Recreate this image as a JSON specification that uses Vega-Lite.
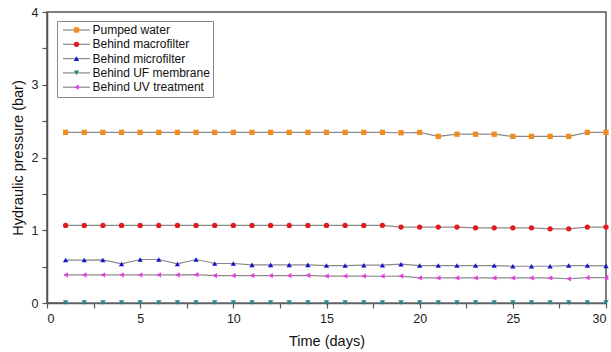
{
  "$schema": "https://vega.github.io/schema/vega-lite/v6.json",
  "autosize": "none",
  "width": 559,
  "height": 291,
  "padding": {"left": 47, "top": 12, "right": 5, "bottom": 49},
  "background": "white",
  "config": {
    "view": {"stroke": "#555", "strokeWidth": 1.5},
    "font": "Liberation Sans",
    "axis": {
      "grid": false,
      "domainColor": "#555",
      "domainWidth": 1.5,
      "tickColor": "#555",
      "tickWidth": 1.2,
      "tickSize": 5,
      "labelFont": "Liberation Sans",
      "labelFontSize": 12.5,
      "labelColor": "#222",
      "labelPadding": 4,
      "titleFont": "Liberation Sans",
      "titleFontSize": 14.5,
      "titleFontWeight": "normal",
      "titleColor": "#111"
    }
  },
  "data": {
    "values": [
      {"day": 1, "series": "Pumped water", "value": 2.345},
      {"day": 2, "series": "Pumped water", "value": 2.345},
      {"day": 3, "series": "Pumped water", "value": 2.345},
      {"day": 4, "series": "Pumped water", "value": 2.345},
      {"day": 5, "series": "Pumped water", "value": 2.345},
      {"day": 6, "series": "Pumped water", "value": 2.345},
      {"day": 7, "series": "Pumped water", "value": 2.345},
      {"day": 8, "series": "Pumped water", "value": 2.345},
      {"day": 9, "series": "Pumped water", "value": 2.345},
      {"day": 10, "series": "Pumped water", "value": 2.345},
      {"day": 11, "series": "Pumped water", "value": 2.345},
      {"day": 12, "series": "Pumped water", "value": 2.345},
      {"day": 13, "series": "Pumped water", "value": 2.345},
      {"day": 14, "series": "Pumped water", "value": 2.345},
      {"day": 15, "series": "Pumped water", "value": 2.345},
      {"day": 16, "series": "Pumped water", "value": 2.345},
      {"day": 17, "series": "Pumped water", "value": 2.345},
      {"day": 18, "series": "Pumped water", "value": 2.345},
      {"day": 19, "series": "Pumped water", "value": 2.34},
      {"day": 20, "series": "Pumped water", "value": 2.345},
      {"day": 21, "series": "Pumped water", "value": 2.29},
      {"day": 22, "series": "Pumped water", "value": 2.32},
      {"day": 23, "series": "Pumped water", "value": 2.32},
      {"day": 24, "series": "Pumped water", "value": 2.32},
      {"day": 25, "series": "Pumped water", "value": 2.29},
      {"day": 26, "series": "Pumped water", "value": 2.29},
      {"day": 27, "series": "Pumped water", "value": 2.29},
      {"day": 28, "series": "Pumped water", "value": 2.29},
      {"day": 29, "series": "Pumped water", "value": 2.345},
      {"day": 30, "series": "Pumped water", "value": 2.345},
      {"day": 1, "series": "Behind macrofilter", "value": 1.066},
      {"day": 2, "series": "Behind macrofilter", "value": 1.066},
      {"day": 3, "series": "Behind macrofilter", "value": 1.066},
      {"day": 4, "series": "Behind macrofilter", "value": 1.066},
      {"day": 5, "series": "Behind macrofilter", "value": 1.066},
      {"day": 6, "series": "Behind macrofilter", "value": 1.066},
      {"day": 7, "series": "Behind macrofilter", "value": 1.066},
      {"day": 8, "series": "Behind macrofilter", "value": 1.066},
      {"day": 9, "series": "Behind macrofilter", "value": 1.066},
      {"day": 10, "series": "Behind macrofilter", "value": 1.066},
      {"day": 11, "series": "Behind macrofilter", "value": 1.066},
      {"day": 12, "series": "Behind macrofilter", "value": 1.066},
      {"day": 13, "series": "Behind macrofilter", "value": 1.066},
      {"day": 14, "series": "Behind macrofilter", "value": 1.066},
      {"day": 15, "series": "Behind macrofilter", "value": 1.066},
      {"day": 16, "series": "Behind macrofilter", "value": 1.066},
      {"day": 17, "series": "Behind macrofilter", "value": 1.066},
      {"day": 18, "series": "Behind macrofilter", "value": 1.068},
      {"day": 19, "series": "Behind macrofilter", "value": 1.043},
      {"day": 20, "series": "Behind macrofilter", "value": 1.043},
      {"day": 21, "series": "Behind macrofilter", "value": 1.043},
      {"day": 22, "series": "Behind macrofilter", "value": 1.043},
      {"day": 23, "series": "Behind macrofilter", "value": 1.034},
      {"day": 24, "series": "Behind macrofilter", "value": 1.034},
      {"day": 25, "series": "Behind macrofilter", "value": 1.034},
      {"day": 26, "series": "Behind macrofilter", "value": 1.034},
      {"day": 27, "series": "Behind macrofilter", "value": 1.02},
      {"day": 28, "series": "Behind macrofilter", "value": 1.02},
      {"day": 29, "series": "Behind macrofilter", "value": 1.043},
      {"day": 30, "series": "Behind macrofilter", "value": 1.043},
      {"day": 1, "series": "Behind microfilter", "value": 0.59},
      {"day": 2, "series": "Behind microfilter", "value": 0.59},
      {"day": 3, "series": "Behind microfilter", "value": 0.592},
      {"day": 4, "series": "Behind microfilter", "value": 0.537},
      {"day": 5, "series": "Behind microfilter", "value": 0.598},
      {"day": 6, "series": "Behind microfilter", "value": 0.598},
      {"day": 7, "series": "Behind microfilter", "value": 0.537},
      {"day": 8, "series": "Behind microfilter", "value": 0.598},
      {"day": 9, "series": "Behind microfilter", "value": 0.543},
      {"day": 10, "series": "Behind microfilter", "value": 0.543},
      {"day": 11, "series": "Behind microfilter", "value": 0.524},
      {"day": 12, "series": "Behind microfilter", "value": 0.524},
      {"day": 13, "series": "Behind microfilter", "value": 0.524},
      {"day": 14, "series": "Behind microfilter", "value": 0.524},
      {"day": 15, "series": "Behind microfilter", "value": 0.515},
      {"day": 16, "series": "Behind microfilter", "value": 0.515},
      {"day": 17, "series": "Behind microfilter", "value": 0.52},
      {"day": 18, "series": "Behind microfilter", "value": 0.52},
      {"day": 19, "series": "Behind microfilter", "value": 0.533},
      {"day": 20, "series": "Behind microfilter", "value": 0.515},
      {"day": 21, "series": "Behind microfilter", "value": 0.515},
      {"day": 22, "series": "Behind microfilter", "value": 0.515},
      {"day": 23, "series": "Behind microfilter", "value": 0.515},
      {"day": 24, "series": "Behind microfilter", "value": 0.515},
      {"day": 25, "series": "Behind microfilter", "value": 0.505},
      {"day": 26, "series": "Behind microfilter", "value": 0.505},
      {"day": 27, "series": "Behind microfilter", "value": 0.505},
      {"day": 28, "series": "Behind microfilter", "value": 0.515},
      {"day": 29, "series": "Behind microfilter", "value": 0.515},
      {"day": 30, "series": "Behind microfilter", "value": 0.51},
      {"day": 1, "series": "Behind UF membrane", "value": 0.005},
      {"day": 2, "series": "Behind UF membrane", "value": 0.005},
      {"day": 3, "series": "Behind UF membrane", "value": 0.005},
      {"day": 4, "series": "Behind UF membrane", "value": 0.005},
      {"day": 5, "series": "Behind UF membrane", "value": 0.005},
      {"day": 6, "series": "Behind UF membrane", "value": 0.005},
      {"day": 7, "series": "Behind UF membrane", "value": 0.005},
      {"day": 8, "series": "Behind UF membrane", "value": 0.005},
      {"day": 9, "series": "Behind UF membrane", "value": 0.005},
      {"day": 10, "series": "Behind UF membrane", "value": 0.005},
      {"day": 11, "series": "Behind UF membrane", "value": 0.005},
      {"day": 12, "series": "Behind UF membrane", "value": 0.005},
      {"day": 13, "series": "Behind UF membrane", "value": 0.005},
      {"day": 14, "series": "Behind UF membrane", "value": 0.005},
      {"day": 15, "series": "Behind UF membrane", "value": 0.005},
      {"day": 16, "series": "Behind UF membrane", "value": 0.005},
      {"day": 17, "series": "Behind UF membrane", "value": 0.005},
      {"day": 18, "series": "Behind UF membrane", "value": 0.005},
      {"day": 19, "series": "Behind UF membrane", "value": 0.005},
      {"day": 20, "series": "Behind UF membrane", "value": 0.005},
      {"day": 21, "series": "Behind UF membrane", "value": 0.005},
      {"day": 22, "series": "Behind UF membrane", "value": 0.005},
      {"day": 23, "series": "Behind UF membrane", "value": 0.005},
      {"day": 24, "series": "Behind UF membrane", "value": 0.005},
      {"day": 25, "series": "Behind UF membrane", "value": 0.005},
      {"day": 26, "series": "Behind UF membrane", "value": 0.005},
      {"day": 27, "series": "Behind UF membrane", "value": 0.005},
      {"day": 28, "series": "Behind UF membrane", "value": 0.005},
      {"day": 29, "series": "Behind UF membrane", "value": 0.005},
      {"day": 30, "series": "Behind UF membrane", "value": 0.005},
      {"day": 1, "series": "Behind UV treatment", "value": 0.386},
      {"day": 2, "series": "Behind UV treatment", "value": 0.386},
      {"day": 3, "series": "Behind UV treatment", "value": 0.386},
      {"day": 4, "series": "Behind UV treatment", "value": 0.386},
      {"day": 5, "series": "Behind UV treatment", "value": 0.386},
      {"day": 6, "series": "Behind UV treatment", "value": 0.386},
      {"day": 7, "series": "Behind UV treatment", "value": 0.386},
      {"day": 8, "series": "Behind UV treatment", "value": 0.39},
      {"day": 9, "series": "Behind UV treatment", "value": 0.377},
      {"day": 10, "series": "Behind UV treatment", "value": 0.377},
      {"day": 11, "series": "Behind UV treatment", "value": 0.377},
      {"day": 12, "series": "Behind UV treatment", "value": 0.377},
      {"day": 13, "series": "Behind UV treatment", "value": 0.377},
      {"day": 14, "series": "Behind UV treatment", "value": 0.38},
      {"day": 15, "series": "Behind UV treatment", "value": 0.37},
      {"day": 16, "series": "Behind UV treatment", "value": 0.37},
      {"day": 17, "series": "Behind UV treatment", "value": 0.37},
      {"day": 18, "series": "Behind UV treatment", "value": 0.368},
      {"day": 19, "series": "Behind UV treatment", "value": 0.37},
      {"day": 20, "series": "Behind UV treatment", "value": 0.345},
      {"day": 21, "series": "Behind UV treatment", "value": 0.345},
      {"day": 22, "series": "Behind UV treatment", "value": 0.345},
      {"day": 23, "series": "Behind UV treatment", "value": 0.345},
      {"day": 24, "series": "Behind UV treatment", "value": 0.345},
      {"day": 25, "series": "Behind UV treatment", "value": 0.345},
      {"day": 26, "series": "Behind UV treatment", "value": 0.345},
      {"day": 27, "series": "Behind UV treatment", "value": 0.345},
      {"day": 28, "series": "Behind UV treatment", "value": 0.333},
      {"day": 29, "series": "Behind UV treatment", "value": 0.348},
      {"day": 30, "series": "Behind UV treatment", "value": 0.348}
    ]
  },
  "encoding": {
    "x": {
      "field": "day",
      "type": "quantitative",
      "title": "Time (days)",
      "scale": {"domain": [0, 30], "nice": false},
      "axis": {
        "values": [0, 2.5, 5, 7.5, 10, 12.5, 15, 17.5, 20, 22.5, 25, 27.5, 30],
        "labelExpr": "datum.value % 5 === 0 ? format(datum.value, 'd') : ''",
        "titlePadding": 10,
        "encode": {"ticks": {"update": {"y2": {"signal": "datum.value % 5 === 0 ? 5 : 3"}}}}
      }
    },
    "y": {
      "field": "value",
      "type": "quantitative",
      "title": "Hydraulic pressure (bar)",
      "scale": {"domain": [0, 4], "nice": false},
      "axis": {
        "values": [0, 0.5, 1, 1.5, 2, 2.5, 3, 3.5, 4],
        "labelExpr": "datum.value % 1 === 0 ? format(datum.value, 'd') : ''",
        "titlePadding": 6,
        "encode": {"ticks": {"update": {"x2": {"signal": "datum.value % 1 === 0 ? -5 : -3"}}}}
      }
    }
  },
  "layer": [
    {
      "mark": {"type": "line", "strokeWidth": 1.2},
      "encoding": {
        "stroke": {
          "field": "series",
          "type": "nominal",
          "sort": ["Pumped water", "Behind macrofilter", "Behind microfilter", "Behind UF membrane", "Behind UV treatment"],
          "scale": {
            "range": ["#8a8a8a", "#8a8a8a", "#8a8a8a", "#8a8a8a", "#8a8a8a"]
          },
          "legend": {
            "title": null,
            "orient": "none",
            "legendX": 10,
            "legendY": 9,
            "padding": 3,
            "strokeColor": "#888",
            "fillColor": "white",
            "symbolType": "M-4.5,0H4.5",
            "symbolSize": 36,
            "symbolStrokeWidth": 1.2,
            "symbolOffset": 10.5,
            "labelOffset": 10,
            "labelFont": "Liberation Sans",
            "labelFontSize": 12,
            "labelColor": "#111",
            "rowPadding": 2.3,
            "zindex": 1
          }
        }
      }
    },
    {
      "mark": {"type": "point", "filled": true, "opacity": 1, "size": 28},
      "encoding": {
        "fill": {
          "field": "series",
          "type": "nominal",
          "scale": {
            "domain": ["Pumped water", "Behind macrofilter", "Behind microfilter", "Behind UF membrane", "Behind UV treatment"],
            "range": ["#F28C1E", "#E41A1C", "#1414CC", "#1E8C8C", "#E63CE6"]
          },
          "legend": {
            "title": null,
            "orient": "none",
            "legendX": 10,
            "legendY": 9,
            "padding": 3,
            "symbolSize": 28,
            "symbolOffset": 10.5,
            "labelOffset": 10,
            "labelFont": "Liberation Sans",
            "labelFontSize": 12,
            "labelOpacity": 0,
            "rowPadding": 2.3,
            "zindex": 2
          }
        },
        "shape": {
          "field": "series",
          "type": "nominal",
          "scale": {
            "domain": ["Pumped water", "Behind macrofilter", "Behind microfilter", "Behind UF membrane", "Behind UV treatment"],
            "range": ["square", "circle", "triangle-up", "triangle-down", "triangle-left"]
          }
        }
      }
    }
  ]
}
